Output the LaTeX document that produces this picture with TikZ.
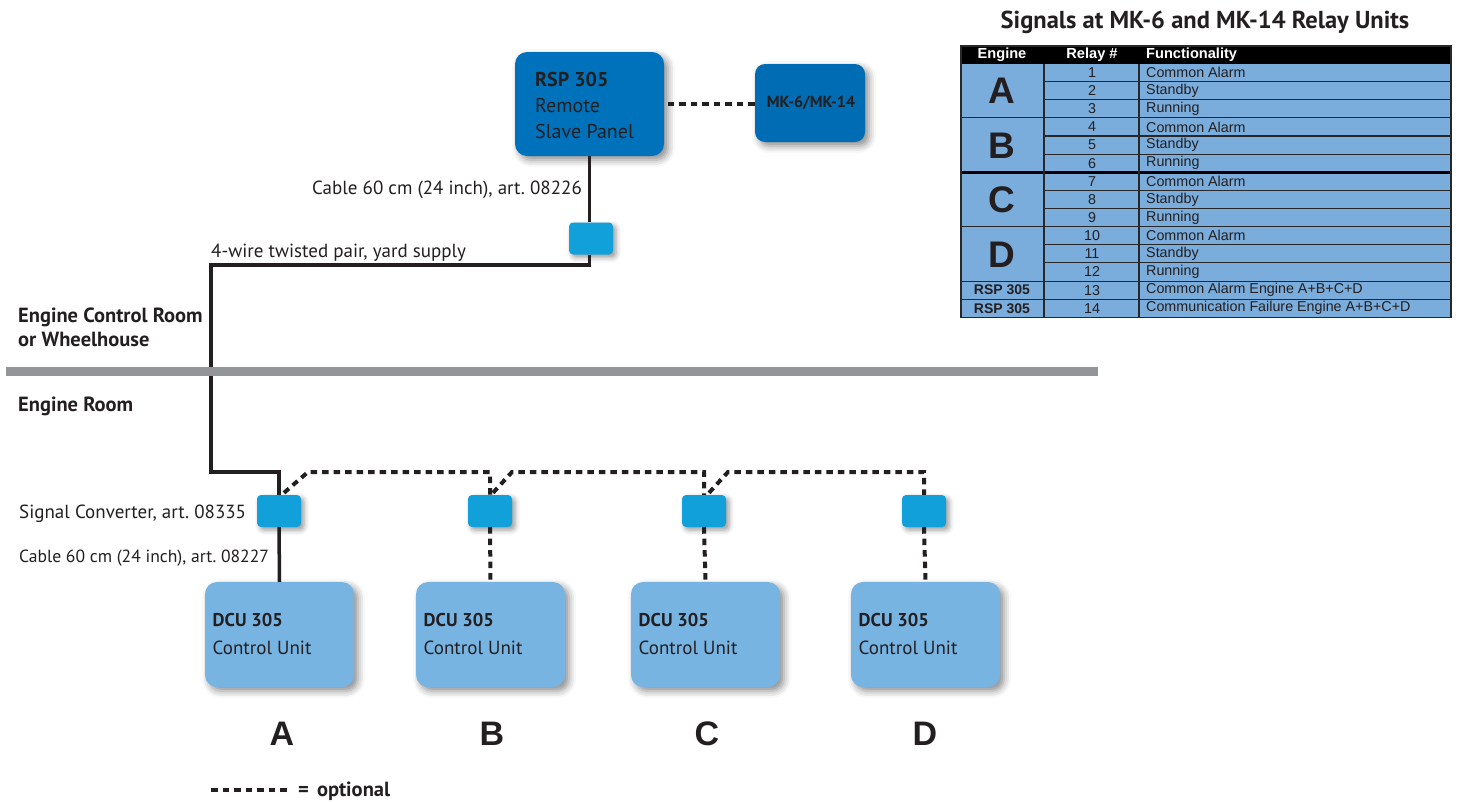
\documentclass[tikz,border=0pt]{standalone}
\usepackage{fontspec}
\setmainfont{PT Sans}
\newfontfamily\arialf{Liberation Sans}
\usetikzlibrary{shadows.blur}
\definecolor{rspblue}{RGB}{0,113,187}
\definecolor{mkblue}{RGB}{0,108,180}
\definecolor{convblue}{RGB}{18,160,218}
\definecolor{dcublue}{RGB}{120,180,226}
\definecolor{tabblue}{RGB}{122,172,220}
\definecolor{wirec}{RGB}{35,31,32}
\definecolor{bandgray}{RGB}{147,149,152}
\definecolor{tline}{RGB}{40,40,40}
\frenchspacing
\begin{document}
\begin{tikzpicture}[x=1pt,y=-1pt,
  shad/.style={blur shadow={shadow xshift=4pt, shadow yshift=-4pt, shadow blur radius=7pt, shadow opacity=45}},
  box/.style={rounded corners=12pt, inner sep=0pt, shad},
  rspbox/.style={box, fill=rspblue, minimum width=149pt, minimum height=104pt},
  mkbox/.style={box, rounded corners=10pt, fill=mkblue, minimum width=110pt, minimum height=78pt},
  dcubox/.style={box, fill=dcublue, minimum width=149pt, minimum height=105pt},
  convbox/.style={rounded corners=4pt, inner sep=0pt, fill=convblue, minimum width=44pt, minimum height=32pt,
     blur shadow={shadow xshift=3pt, shadow yshift=-3pt, shadow blur radius=5pt, shadow opacity=40}},
  wire/.style={draw=wirec, line width=3.5pt},
  opt/.style={draw=wirec, line width=4pt, dash pattern=on 6.5pt off 5pt},
  lbl/.style={font=\fontsize{19}{22}\selectfont, inner sep=0pt, anchor=base west, text=wirec},
  blbl/.style={font=\bfseries\fontsize{20.5}{24}\selectfont, inner sep=0pt, anchor=base west, text=wirec},
  boxtxt/.style={font=\fontsize{20}{24}\selectfont, inner sep=0pt, anchor=base west, text=wirec},
  dcutxt/.style={font=\fontsize{19}{23}\selectfont, inner sep=0pt, anchor=base west, text=wirec},
  big/.style={font=\arialf\bfseries\fontsize{34}{40}\selectfont, inner sep=0pt, anchor=base, text=wirec},
  tab/.style={font=\arialf\fontsize{14.3}{16}\selectfont, inner sep=0pt, text=wirec},
  tabh/.style={font=\arialf\bfseries\fontsize{14.6}{16}\selectfont, inner sep=0pt, text=white},
  tabbig/.style={font=\arialf\bfseries\fontsize{37}{40}\selectfont, inner sep=0pt, anchor=base, text=wirec}
]
\useasboundingbox (0,0) rectangle (1459,801);

% ---------- boxes ----------
\node[rspbox] (rsp) at (589.5,104) {};
\node[mkbox] (mk) at (810,103) {};
\node[font=\bfseries\fontsize{16}{18}\selectfont, text=wirec] (mkt) at (811,103) {MK-6/MK-14};
\node[boxtxt, font=\bfseries\fontsize{20}{24}\selectfont] (rsp1) at (535,86) {RSP 305};
\node[boxtxt] (rsp2) at (535,112) {Remote};
\node[boxtxt] (rsp3) at (535,138) {Slave Panel};

\node[convbox] (conv1) at (591,238.5) {};

\foreach \n/\cx in {A/279,B/490,C/704,D/924}{
  \node[convbox] (conv\n) at (\cx,511) {};
}
\foreach \n/\cx/\lx in {A/279.5/282,B/490.5/492,C/705.5/707,D/925.5/925}{
  \node[dcubox] (dcu\n) at (\cx,634.5) {};
  \node[dcutxt, font=\bfseries\fontsize{18.5}{23}\selectfont] (dcut\n) at (\cx-67,626) {DCU 305};
  \node[dcutxt] (dcus\n) at (\cx-67,654) {Control Unit};
  \node[big] (lab\n) at (\lx,745) {\n};
}

% ---------- wires ----------
\coordinate (j1) at (211,265);
\coordinate (j2) at (211,472);
\draw[wire] (rsp.south) -- (rsp.south |- conv1.north);
\draw[wire] (rsp.south |- conv1.south) |- (j1) -- (j2) -| (convA.north);
\draw[wire] (convA.south) -- (dcuA.north);

\draw[opt] (mk.west |- rsp.east) -- (rsp.east);

\coordinate (bA) at (308,472);
\coordinate (bB) at (490,472);
\coordinate (bB2) at (512,472);
\coordinate (bC) at (704,472);
\coordinate (bC2) at (728,472);
\coordinate (bD) at (924,472);
\draw[opt] ([xshift=5pt,yshift=2pt]convA.north) -- (bA) -- (bB) -- (convB.north);
\draw[opt] ([xshift=3pt,yshift=2pt]convB.north) -- (bB2) -- (bC) -- (convC.north);
\draw[opt] ([xshift=5pt,yshift=2pt]convC.north) -- (bC2) -- (bD) -- (convD.north);
\draw[opt] (convB.south) -- (dcuB.north);
\draw[opt] (convC.south) -- (dcuC.north);
\draw[opt] (convD.south) -- (dcuD.north);

% ---------- band ----------
\draw[draw=bandgray, line width=9pt] (6,371) coordinate (band1) -- (1098,371) coordinate (band2);

% ---------- labels ----------
\node[lbl] (cab1) at (312,194) {Cable 60 cm (24 inch), art. 08226};
\node[lbl] (tw) at (211,257) {4-wire twisted pair, yard supply};
\node[blbl] (ecr1) at (18,322) {Engine Control Room};
\node[blbl] (ecr2) at (18,346) {or Wheelhouse};
\node[blbl] (er) at (18,411) {Engine Room};
\node[lbl] (sc) at (19,518) {Signal Converter, art. 08335};
\node[lbl, font=\fontsize{17.6}{22}\selectfont] (cab2) at (19,562) {Cable 60 cm (24 inch), art. 08227};

% legend
\coordinate (lg1) at (211,790);
\coordinate (lg2) at (288,790);
\draw[opt] (lg1) -- (lg2);
\node[blbl] (lgt) at (298,796) {=\hspace{8pt}optional};

% ---------- table ----------
\node[font=\bfseries\fontsize{24.5}{28}\selectfont, text=wirec, inner sep=0pt, anchor=base] (title) at (1205,28) {Signals at MK-6 and MK-14 Relay Units};
\def\rh{18.13}
\fill[tabblue] (961,63.5) rectangle (1451,317.3);
\fill[black] (961,46) rectangle (1451,63.5);
\node[tabh] (h1) at (1002,55) {Engine};
\node[tabh] (h2) at (1092,55) {Relay \#};
\node[tabh, anchor=west] (h3) at (1146,55) {Functionality};
\foreach \f [count=\i] in {Common Alarm,Standby,Running,Common Alarm,Standby,Running,Common Alarm,Standby,Running,Common Alarm,Standby,Running,Common Alarm Engine A+B+C+D,Communication Failure Engine A+B+C+D}{
  \pgfmathsetmacro{\yc}{63.5+(\i-0.5)*\rh}
  \node[tab] (r\i) at (1092,\yc) {\i};
  \node[tab, anchor=west] (f\i) at (1146,\yc) {\f};
}
\foreach \i in {1,2,4,5,7,8,10,11}{
  \pgfmathsetmacro{\yl}{63.5+\i*\rh}
  \draw[tline, line width=1.1pt] (1044,\yl) -- (1451,\yl);
}
\foreach \i in {3,9,12,13}{
  \pgfmathsetmacro{\yl}{63.5+\i*\rh}
  \draw[tline, line width=1.1pt] (961,\yl) -- (1451,\yl);
}
\draw[black, line width=3pt] (961,{63.5+6*\rh}) -- (1451,{63.5+6*\rh});
\draw[tline, line width=1.1pt] (1044,63.5) -- (1044,317.3);
\draw[tline, line width=1.1pt] (1139,63.5) -- (1139,317.3);
\draw[tline, line width=1.2pt] (961,46) rectangle (1451,317.3);
\foreach \L [count=\k] in {A,B,C,D}{
  \pgfmathsetmacro{\yb}{63.5+(3*\k-1.5)*\rh+13.3}
  \node[tabbig] (g\L) at (1002,\yb) {\L};
}
\node[tab, font=\arialf\bfseries\fontsize{14}{15}\selectfont] (rs1) at (1002,{63.5+12.5*\rh}) {RSP 305};
\node[tab, font=\arialf\bfseries\fontsize{14}{15}\selectfont] (rs2) at (1002,{63.5+13.5*\rh}) {RSP 305};
\end{tikzpicture}
\end{document}
